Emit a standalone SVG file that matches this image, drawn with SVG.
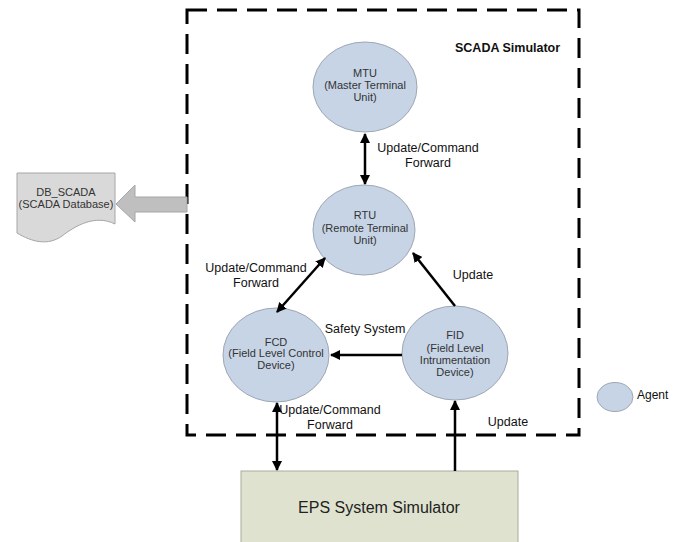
<svg xmlns="http://www.w3.org/2000/svg" width="684" height="542" viewBox="0 0 684 542">
  <style>
    .agent { fill: #c6d4e6; stroke: #9ea7b3; stroke-width: 1; }
    .lbl { font-family: "Liberation Sans", Arial, sans-serif; font-size: 11px; fill: #333; text-anchor: middle; }
    .edge { font-family: "Liberation Sans", Arial, sans-serif; font-size: 12.5px; fill: #111; text-anchor: middle; }
    .conn { stroke: #000; stroke-width: 2.5; fill: none; }
  </style>
  <defs>
    <marker id="ah" viewBox="0 0 10 10" refX="9" refY="5" markerWidth="4" markerHeight="4" orient="auto-start-reverse" markerUnits="strokeWidth">
      <path d="M0,0 L10,5 L0,10 Z" fill="#000"/>
    </marker>
  </defs>

  <rect width="684" height="542" fill="#fff"/>

  <!-- SCADA simulator boundary -->
  <g id="scada-boundary">
    <rect x="187" y="10" width="392" height="425" fill="none" stroke="#000" stroke-width="3" stroke-dasharray="20 10"/>
    <text x="455" y="52" font-family="Liberation Sans, Arial, sans-serif" font-size="12.5" font-weight="bold" fill="#111">SCADA Simulator</text>
  </g>

  <!-- database document -->
  <g id="db-scada">
    <path d="M17,173 H115 V224 C95,214 75,226 62,236 C48,246 32,242 17,233 Z" fill="#d9d9d9" stroke="#a6a6a6" stroke-width="1"/>
    <text class="lbl" x="66" y="196">DB_SCADA</text>
    <text class="lbl" x="66" y="208">(SCADA Database)</text>
  </g>

  <!-- block arrow into the database -->
  <g id="db-arrow">
    <path d="M187,197 H135 V185 L116,204 L135,222 V212 H187 Z" fill="#bfbfbf" stroke="#a6a6a6" stroke-width="1"/>
  </g>

  <g id="mtu">
    <ellipse class="agent" cx="365" cy="87" rx="52" ry="45"/>
    <text class="lbl" x="365" y="77">MTU</text>
    <text class="lbl" x="365" y="89">(Master Terminal</text>
    <text class="lbl" x="365" y="101">Unit)</text>
  </g>

  <g id="rtu">
    <ellipse class="agent" cx="364" cy="230" rx="51" ry="45"/>
    <text class="lbl" x="365" y="219">RTU</text>
    <text class="lbl" x="365" y="232">(Remote Terminal</text>
    <text class="lbl" x="365" y="244">Unit)</text>
  </g>

  <g id="fcd">
    <ellipse class="agent" cx="276" cy="355" rx="53" ry="47"/>
    <text class="lbl" x="276" y="346">FCD</text>
    <text class="lbl" x="276" y="357">(Field Level Control</text>
    <text class="lbl" x="276" y="369">Device)</text>
  </g>

  <g id="fid">
    <ellipse class="agent" cx="455" cy="353" rx="53" ry="47"/>
    <text class="lbl" x="455" y="339">FID</text>
    <text class="lbl" x="455" y="352">(Field Level</text>
    <text class="lbl" x="455" y="364">Intrumentation</text>
    <text class="lbl" x="455" y="376">Device)</text>
  </g>

  <g id="eps">
    <rect x="241" y="471" width="277" height="75" fill="#dfe2cf" stroke="#a9ab9c" stroke-width="1"/>
    <text x="379" y="513" font-family="Liberation Sans, Arial, sans-serif" font-size="16" fill="#222" text-anchor="middle">EPS System Simulator</text>
  </g>

  <g id="legend">
    <ellipse class="agent" cx="615" cy="397" rx="18" ry="14.5"/>
    <text x="637" y="399" font-family="Liberation Sans, Arial, sans-serif" font-size="12" fill="#111">Agent</text>
  </g>

  <!-- connectors -->
  <g id="connectors">
    <line class="conn" x1="365" y1="134" x2="365" y2="184" marker-start="url(#ah)" marker-end="url(#ah)"/>
    <line class="conn" x1="277" y1="312" x2="325" y2="258" marker-start="url(#ah)" marker-end="url(#ah)"/>
    <line class="conn" x1="455" y1="306" x2="413" y2="253" marker-end="url(#ah)"/>
    <line class="conn" x1="402" y1="355" x2="331" y2="355" marker-end="url(#ah)"/>
    <line class="conn" x1="277" y1="470" x2="277" y2="403" marker-start="url(#ah)" marker-end="url(#ah)"/>
    <line class="conn" x1="455" y1="471" x2="455" y2="401" marker-end="url(#ah)"/>
  </g>

  <!-- connector labels -->
  <g id="connector-labels">
    <text class="edge" x="428" y="152">Update/Command</text>
    <text class="edge" x="428" y="167">Forward</text>
    <text class="edge" x="256" y="272">Update/Command</text>
    <text class="edge" x="256" y="287">Forward</text>
    <text class="edge" x="473" y="279">Update</text>
    <text class="edge" x="365" y="333">Safety System</text>
    <text class="edge" x="330" y="414">Update/Command</text>
    <text class="edge" x="330" y="429">Forward</text>
    <text class="edge" x="508" y="426">Update</text>
  </g>
</svg>
